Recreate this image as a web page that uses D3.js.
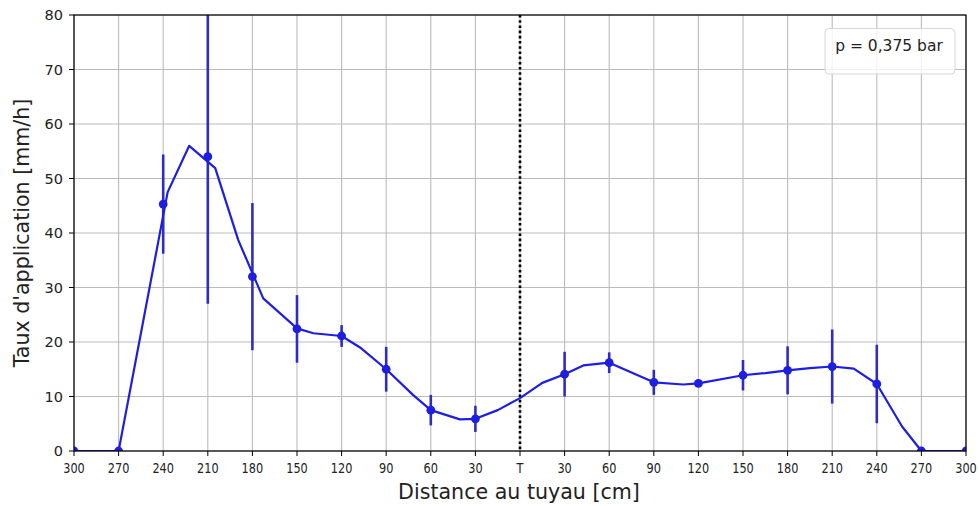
<!DOCTYPE html>
<html>
<head>
<meta charset="utf-8">
<script src="https://cdn.jsdelivr.net/npm/d3@7"></script>
<style>
  html, body { margin: 0; padding: 0; background: #fff; }
  svg { display: block; font-family: "DejaVu Sans", sans-serif; }
</style>
</head>
<body>
<svg id="chart" width="979" height="506"></svg>
<script>
// ---- data ----
const markerPos = [-300, -270, -240, -210, -180, -150, -120, -90, -60, -30, 30, 60, 90, 120, 150, 180, 210, 240, 270, 300];
const markerVal = [0, 0, 45.3, 54.0, 32.0, 22.4, 21.1, 15.0, 7.5, 5.9, 14.1, 16.2, 12.6, 12.4, 13.9, 14.8, 15.5, 12.3, 0, 0];
const markerErr = [0, 0, 9.1, 27.0, 13.5, 6.2, 2.0, 4.1, 2.8, 2.4, 4.1, 1.9, 2.3, 0.5, 2.8, 4.4, 6.8, 7.2, 0, 0];

const linePos = [-300, -270, -237, -222.5, -205, -189.5, -172.7, -150, -139, -120, -107.6, -90, -72, -60, -40.4, -30, -15, 0, 15, 30, 42.6, 60, 90, 109.8, 120, 150, 165, 180, 195, 210, 224.5, 240, 257, 270, 300];
const lineVal = [0, 0, 47.5, 56.0, 51.9, 38.7, 28.0, 22.5, 21.6, 21.1, 19.0, 15.0, 10.3, 7.5, 5.8, 5.9, 7.5, 9.7, 12.5, 14.1, 15.7, 16.2, 12.6, 12.2, 12.4, 13.9, 14.3, 14.8, 15.2, 15.5, 15.1, 12.3, 4.5, 0, 0];

const xTickValues = d3.range(-300, 301, 30);
const xTickLabels = ["300","270","240","210","180","150","120","90","60","30","T","30","60","90","120","150","180","210","240","270","300"];
const yTickValues = [0, 10, 20, 30, 40, 50, 60, 70, 80];

const legendText = "p = 0,375 bar";
const xTitle = "Distance au tuyau [cm]";
const yTitle = "Taux d'application [mm/h]";

// ---- layout ----
const L = 74, R = 966, T = 15, B = 451;
const svg = d3.select("#chart");
const x = d3.scaleLinear().domain([-300, 300]).range([L, R]);
const y = d3.scaleLinear().domain([0, 80]).range([B, T]);

svg.append("defs").append("clipPath").attr("id", "plotclip")
  .append("rect").attr("x", L).attr("y", T).attr("width", R - L).attr("height", B - T);

// grid
const grid = svg.append("g");
grid.selectAll("line.gx").data(xTickValues).join("line")
  .attr("x1", d => x(d)).attr("x2", d => x(d)).attr("y1", T).attr("y2", B)
  .attr("stroke", "#bcbcbc").attr("stroke-width", 1.1);
grid.selectAll("line.gy").data(yTickValues).join("line")
  .attr("class", "gy")
  .attr("x1", L).attr("x2", R).attr("y1", d => y(d)).attr("y2", d => y(d))
  .attr("stroke", "#bcbcbc").attr("stroke-width", 1.1);

// dotted vertical line at T
svg.append("line")
  .attr("x1", x(0)).attr("x2", x(0)).attr("y1", T).attr("y2", B)
  .attr("stroke", "#000").attr("stroke-width", 2.6).attr("stroke-dasharray", "2.6,2.6");

const plot = svg.append("g").attr("clip-path", "url(#plotclip)");

// error bars
const eb = markerPos.map((p, i) => ({p, v: markerVal[i], e: markerErr[i]})).filter(d => d.e > 0);
plot.selectAll("line.eb").data(eb).join("line")
  .attr("x1", d => x(d.p)).attr("x2", d => x(d.p))
  .attr("y1", d => y(d.v - d.e)).attr("y2", d => y(d.v + d.e))
  .attr("stroke", "#2d2dc6").attr("stroke-width", 2.6);

// line
const lineData = linePos.map((p, i) => [p, lineVal[i]]);
plot.append("path")
  .attr("d", d3.line().x(d => x(d[0])).y(d => y(d[1]))(lineData))
  .attr("fill", "none").attr("stroke", "#1e1ee0").attr("stroke-width", 2.2)
  .attr("stroke-linejoin", "round");

// markers
plot.selectAll("circle").data(markerPos.map((p, i) => [p, markerVal[i]])).join("circle")
  .attr("cx", d => x(d[0])).attr("cy", d => y(d[1])).attr("r", 4.4)
  .attr("fill", "#1e1ee0");

// frame
svg.append("rect").attr("x", L).attr("y", T).attr("width", R - L).attr("height", B - T)
  .attr("fill", "none").attr("stroke", "#000").attr("stroke-width", 1.2);

// x axis ticks + labels
const xa = svg.append("g");
xa.selectAll("line").data(xTickValues).join("line")
  .attr("x1", d => x(d)).attr("x2", d => x(d)).attr("y1", B).attr("y2", B + 5)
  .attr("stroke", "#000").attr("stroke-width", 1);
xa.selectAll("text").data(xTickValues).join("text")
  .attr("transform", d => `translate(${x(d)},${473}) scale(0.78,1)`)
  .attr("text-anchor", "middle").attr("font-size", 14.5).attr("fill", "#222")
  .text((d, i) => xTickLabels[i]);

// y axis ticks + labels
const ya = svg.append("g");
ya.selectAll("line").data(yTickValues).join("line")
  .attr("x1", L - 5).attr("x2", L).attr("y1", d => y(d)).attr("y2", d => y(d))
  .attr("stroke", "#000").attr("stroke-width", 1);
ya.selectAll("text").data(yTickValues).join("text")
  .attr("x", L - 11).attr("y", d => y(d) + 5)
  .attr("text-anchor", "end").attr("font-size", 14.5).attr("fill", "#222")
  .text(d => d);

// titles
svg.append("text").attr("x", 519).attr("y", 499)
  .attr("text-anchor", "middle").attr("font-size", 20.6).attr("fill", "#222").text(xTitle);
svg.append("text").attr("transform", `translate(29,${(T + B) / 2}) rotate(-90)`)
  .attr("text-anchor", "middle").attr("font-size", 20.6).attr("fill", "#222").text(yTitle);

// legend
const lg = svg.append("g");
lg.append("rect").attr("x", 825).attr("y", 28.5).attr("width", 130).attr("height", 45.5)
  .attr("rx", 4).attr("ry", 4)
  .attr("fill", "#fff").attr("fill-opacity", 0.8).attr("stroke", "#d6d6d6").attr("stroke-width", 1);
lg.append("text").attr("x", 889).attr("y", 50.5).attr("text-anchor", "middle")
  .attr("font-size", 15.5).attr("fill", "#222").text(legendText);
</script>
</body>
</html>
